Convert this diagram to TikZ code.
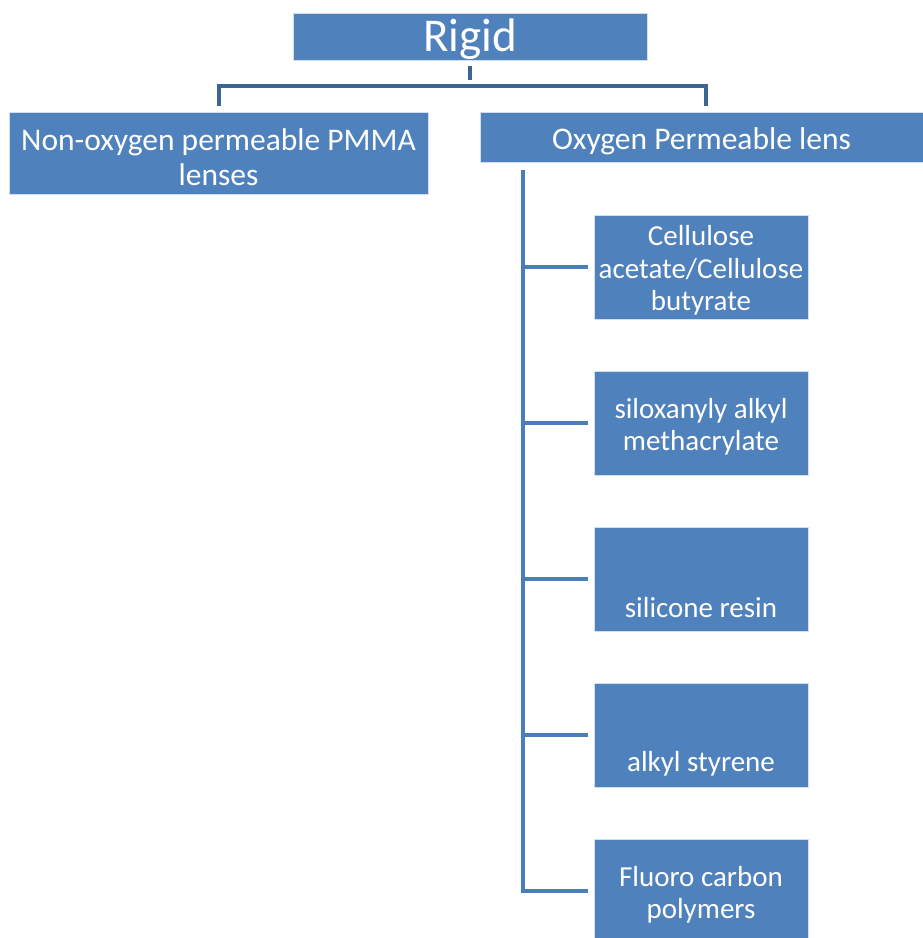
\documentclass[tikz,border=0pt]{standalone}
\usepackage{fontspec}
\setmainfont{Carlito}
\usepackage{tikz}
\usetikzlibrary{calc}
\definecolor{myblue}{RGB}{79,129,189}
\definecolor{mytopline}{RGB}{60,100,148}
\definecolor{mysideline}{RGB}{74,126,187}
\newcommand{\topstrut}{\rule{0pt}{0.95em}}
\tikzset{
  box/.style={rectangle, draw=white!75!myblue, fill=myblue, text=white,
    align=center, inner sep=0pt, line width=0.8pt,
    font=\fontsize{31.5}{35}\selectfont},
  kidbox/.style={box, minimum width=214pt, minimum height=104pt,
    font=\fontsize{29}{32.5}\selectfont},
  topline/.style={line width=4pt, color=mytopline, shorten >=6pt},
  sideline/.style={line width=4pt, color=mysideline, shorten >=6pt}
}
\begin{document}
\begin{tikzpicture}[x=1pt, y=-1pt]
  \useasboundingbox (0,0) rectangle (923,938);

  % Root and first level
  \node[box, minimum width=354pt, minimum height=47pt, text height=38pt,
    text depth=9pt, font=\fontsize{47}{52}\selectfont] (rigid) at (470,36.5) {Rigid};
  \node[box, minimum width=419pt, minimum height=82pt] (nonox) at (218.5,153)
    {\topstrut Non-oxygen permeable PMMA\\lenses};
  \node[box, minimum width=443pt, minimum height=50pt] (oxy) at (701.5,137)
    {\topstrut Oxygen Permeable lens};

  % Top connector
  \draw[topline, shorten <=6pt] (rigid.south) -- ++(0,26) coordinate (split);
  \draw[topline] (split) -| (nonox.north);
  \draw[topline] (split) -| ([xshift=4pt]oxy.north);

  % Oxygen permeable kinds
  \node[kidbox] (cab) at (701,267) {\topstrut Cellulose\\acetate/Cellulose\\butyrate};
  \node[kidbox] (sam) at (701,423) {\topstrut siloxanyly alkyl\\methacrylate};
  \node[kidbox] (sil) at (701,579) {\rule{0pt}{12pt}\\\mbox{}\\silicone resin};
  \node[kidbox] (sty) at (701,735) {\rule{0pt}{12pt}\\\mbox{}\\alkyl styrene};
  \node[kidbox] (flu) at (701,891) {\topstrut Fluoro carbon\\polymers};

  % Side connector
  \coordinate (trunk) at ([shift={(43,8)}]oxy.south west);
  \draw[sideline] (trunk) |- (flu.west);
  \foreach \k in {cab,sam,sil,sty}
    \draw[sideline] (trunk |- \k.west) -- (\k.west);
\end{tikzpicture}
\end{document}
